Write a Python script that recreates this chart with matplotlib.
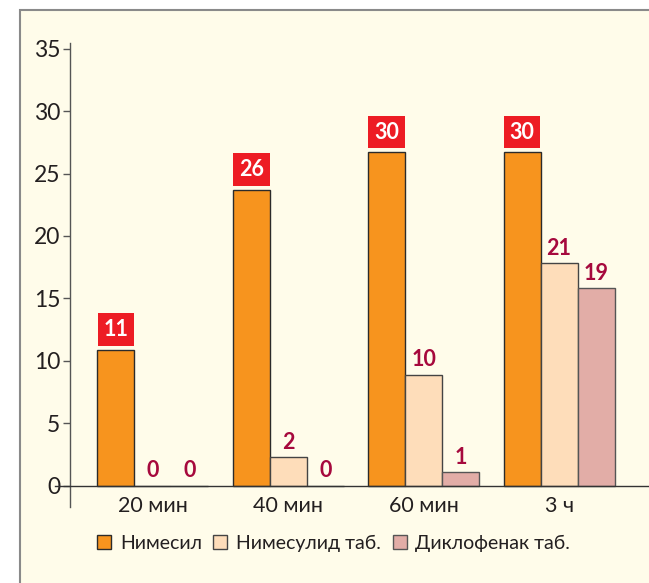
import numpy as np
import matplotlib.pyplot as plt
from matplotlib.patches import Rectangle

plt.rcParams['font.family'] = ['Lato', 'Open Sans', 'DejaVu Sans']

categories = ['20 мин', '40 мин', '60 мин', '3 ч']
series = ['Нимесил', 'Нимесулид таб.', 'Диклофенак таб.']
# высоты столбиков так, как они нарисованы по шкале
nimesil = [10.9, 23.7, 26.7, 26.7]
nimesulid = [0, 2.3, 8.9, 17.8]
diclofenac = [0, 0, 1.1, 15.8]
# подписи над столбиками
nimesil_lbl = [11, 26, 30, 30]
nimesulid_lbl = [0, 2, 10, 21]
diclofenac_lbl = [0, 0, 1, 19]
yticks = [0, 5, 10, 15, 20, 25, 30, 35]

W, H = 649, 583
fig = plt.figure(figsize=(W / 100, H / 100), dpi=100)
fig.patch.set_facecolor('white')
# рамка с кремовым фоном
fig.patches.append(Rectangle((20 / W, -0.05), 1.1, 0.05 + (H - 10) / H,
                             transform=fig.transFigure, fc='#FFFCEA',
                             ec='#8a8a8a', lw=1.5, zorder=-10))

ax = fig.add_axes([70 / W, (H - 507) / H, 1 - 70 / W, (507 - 43) / H])
ax.set_zorder(2)
ax.set_facecolor('none')
gpx = 135.4  # пикселей на группу
x0 = 152.9   # пиксель центра первой группы
ax.set_xlim((70 - x0) / gpx, (W - x0) / gpx)
ax.set_ylim(-1.7, 35.45)

x = np.arange(len(categories))
w = 37 / gpx
cols = ['#F7941E', '#FEDDBA', '#E2ADA7']
b1 = ax.bar(x - w, nimesil, w, color=cols[0], edgecolor='#2b2b2b', lw=1, zorder=3)
b2 = ax.bar(x, nimesulid, w, color=cols[1], edgecolor='#444444', lw=1, zorder=3)
b3 = ax.bar(x + w, diclofenac, w, color=cols[2], edgecolor='#555555', lw=1, zorder=3)

for i in range(len(categories)):
    ax.annotate(str(nimesil_lbl[i]), (x[i] - w, nimesil[i]), xytext=(0, 14.5),
                textcoords='offset points', ha='center', va='center',
                color='white', fontweight='bold', fontsize=15.5, zorder=5,
                bbox=dict(boxstyle='square,pad=0.27', fc='#ED1C24', ec='none'))
    ax.annotate(str(nimesulid_lbl[i]), (x[i], nimesulid[i]), xytext=(0, 10.8),
                textcoords='offset points', ha='center', va='center',
                color='#A6093D', fontweight='bold', fontsize=15.5, zorder=5)
    ax.annotate(str(diclofenac_lbl[i]), (x[i] + w, diclofenac[i]), xytext=(0, 10.8),
                textcoords='offset points', ha='center', va='center',
                color='#A6093D', fontweight='bold', fontsize=15.5, zorder=5)
    ax.annotate(categories[i], (x[i], 0), xytext=(0, -14.5),
                textcoords='offset points', ha='center', va='center',
                color='#231F20', fontsize=15.5)

# ось X
ax.plot([(55 - x0) / gpx, (W - x0) / gpx], [0, 0], color='#333333', lw=1,
        clip_on=False, zorder=4)

for s in ['top', 'right', 'bottom']:
    ax.spines[s].set_visible(False)
ax.spines['left'].set_color('#555555')
ax.spines['left'].set_linewidth(1)
ax.set_yticks(yticks)
ax.tick_params(axis='y', length=5, width=1, color='#555555', pad=2,
               labelsize=16.5, labelcolor='#231F20')
ax.set_xticks([])

fig.legend([b1, b2, b3], series, loc='center left',
           bbox_to_anchor=(97 / W, (H - 543) / H), ncol=3, frameon=False,
           fontsize=14, handlelength=0.72, handleheight=0.72,
           handletextpad=0.45, columnspacing=0.6, borderpad=0,
           borderaxespad=0, labelcolor='#231F20')

fig.savefig('out.png', dpi=100)
